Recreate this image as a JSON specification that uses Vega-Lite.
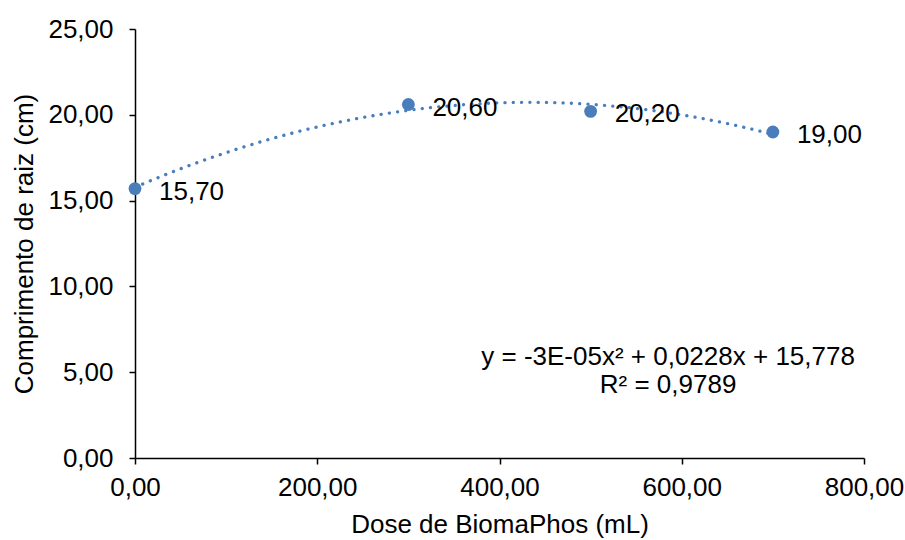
{
  "$schema": "https://vega.github.io/schema/vega-lite/v6.json",
  "width": 729,
  "height": 429,
  "autosize": {"type": "none"},
  "padding": {"left": 135, "top": 29, "right": 41, "bottom": 82},
  "background": "white",
  "config": {
    "locale": {"number": {"decimal": ",", "thousands": ".", "grouping": [3], "currency": ["", ""]}},
    "view": {"stroke": null},
    "font": "Liberation Sans",
    "axis": {
      "grid": false,
      "domainColor": "black",
      "domainWidth": 1.5,
      "tickColor": "black",
      "tickWidth": 1.5,
      "tickSize": 6,
      "labelFont": "Liberation Sans",
      "labelFontSize": 26,
      "labelColor": "black",
      "labelFlush": false,
      "labelOverlap": false,
      "titleFont": "Liberation Sans",
      "titleFontSize": 26,
      "titleFontWeight": "normal",
      "titleColor": "black"
    }
  },
  "data": {
    "values": [
      {"dose": 0, "comp": 15.7, "label": "15,70"},
      {"dose": 300, "comp": 20.6, "label": "20,60"},
      {"dose": 500, "comp": 20.2, "label": "20,20"},
      {"dose": 700, "comp": 19.0, "label": "19,00"}
    ]
  },
  "layer": [
    {
      "transform": [
        {"regression": "comp", "on": "dose", "method": "poly", "order": 2, "extent": [0, 700]}
      ],
      "mark": {"type": "line", "color": "#4A7EBB", "strokeWidth": 3.3, "strokeDash": [0.1, 8.2], "strokeCap": "round"},
      "encoding": {
        "x": {"field": "dose", "type": "quantitative"},
        "y": {"field": "comp", "type": "quantitative"}
      }
    },
    {
      "mark": {"type": "circle", "color": "#4A7EBB", "opacity": 1, "size": 165},
      "encoding": {
        "x": {
          "field": "dose", "type": "quantitative",
          "scale": {"domain": [0, 800], "nice": false, "zero": true},
          "axis": {"values": [0, 200, 400, 600, 800], "format": ".2f", "title": "Dose de BiomaPhos (mL)", "labelPadding": 10, "titlePadding": 11}
        },
        "y": {
          "field": "comp", "type": "quantitative",
          "scale": {"domain": [0, 25], "nice": false},
          "axis": {"values": [0, 5, 10, 15, 20, 25], "format": ".2f", "title": "Comprimento de raiz (cm)", "labelPadding": 16, "titlePadding": 10}
        }
      }
    },
    {
      "mark": {"type": "text", "align": "left", "baseline": "middle", "dx": 24, "dy": 3, "fontSize": 26, "color": "black", "font": "Liberation Sans"},
      "encoding": {
        "x": {"field": "dose", "type": "quantitative"},
        "y": {"field": "comp", "type": "quantitative"},
        "text": {"field": "label"}
      }
    },
    {
      "data": {
        "values": [
          {"dose": 585, "comp": 5.89, "txt": "y = -3E-05x² + 0,0228x + 15,778"},
          {"dose": 585, "comp": 4.25, "txt": "R² = 0,9789"}
        ]
      },
      "mark": {"type": "text", "align": "center", "baseline": "middle", "fontSize": 26, "color": "black", "font": "Liberation Sans"},
      "encoding": {
        "x": {"field": "dose", "type": "quantitative"},
        "y": {"field": "comp", "type": "quantitative"},
        "text": {"field": "txt"}
      }
    }
  ]
}
